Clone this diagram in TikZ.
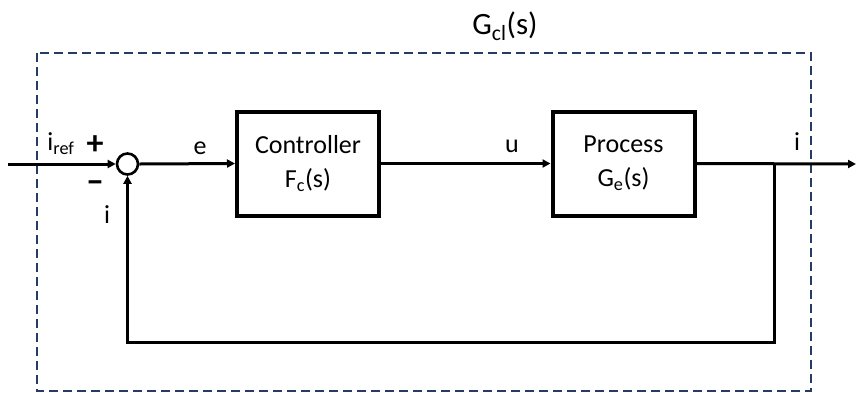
\documentclass[tikz,border=0pt]{standalone}
\usepackage{fontspec}
\setmainfont{Carlito}
\usetikzlibrary{arrows.meta}
\definecolor{framecol}{RGB}{38,60,102}
\begin{document}
\begin{tikzpicture}[x=1pt,y=-1pt,
  lbl/.style={font=\fontsize{26}{30}\selectfont, inner sep=0pt},
  blockbox/.style={draw, line width=4pt, minimum width=142pt, minimum height=104pt,
                   align=center, font=\fontsize{26}{34}\selectfont},
  sig/.style={line width=3pt, -{Triangle[length=8pt,width=8pt]}},
  wire/.style={line width=3pt},
  sumnode/.style={circle, draw, line width=2.6pt, minimum size=21pt, inner sep=0pt},
  frame/.style={draw=framecol, line width=1.2pt, dash pattern=on 9pt off 5pt}]
  \useasboundingbox (0,0) rectangle (856,392);

  % closed-loop boundary
  \draw[frame] (37,53) rectangle (811,391);
  \node[lbl, font=\fontsize{31}{34}\selectfont] (gcl) at (505,26) {G\textsubscript{cl}(s)};

  % blocks
  \node[sumnode] (sum) at (127.5,164) {};
  \node[blockbox] (ctrl) at (308,163.5) {Controller\\F\textsubscript{c}(s)};
  \node[blockbox] (proc) at (623.5,163.5) {Process\\G\textsubscript{e}(s)};

  % free ends and branch point
  \coordinate (in) at (8,164);
  \coordinate (out) at (856,164);
  \coordinate (branch) at (774,164);
  \coordinate (fbr) at (774,342);
  \coordinate (fbl) at (127.5,342);

  % forward path
  \draw[sig] (in) -- (sum.west);
  \draw[sig] (sum.east) -- (ctrl.west);
  \draw[sig] (ctrl.east) -- (proc.west);
  \draw[sig] (proc.east) -- (out);

  % feedback path
  \draw[wire, line join=miter] (branch) -- (fbr) -- (fbl) -- ++(0,-20);
  \draw[sig] (fbl) -- (sum.south);

  % signal labels
  \node[lbl] (iref) at (61,144) {i\textsubscript{ref}};
  \node[lbl, font=\bfseries\fontsize{34}{34}\selectfont] (plus) at (95,145) {+};
  \node[lbl, font=\bfseries\fontsize{36}{36}\selectfont] (minus) at (95,187) {–};
  \node[lbl] (ifb) at (107,215) {i};
  \node[lbl] (e) at (200,148) {e};
  \node[lbl] (u) at (512,146) {u};
  \node[lbl] (iout) at (797,142) {i};
\end{tikzpicture}
\end{document}
